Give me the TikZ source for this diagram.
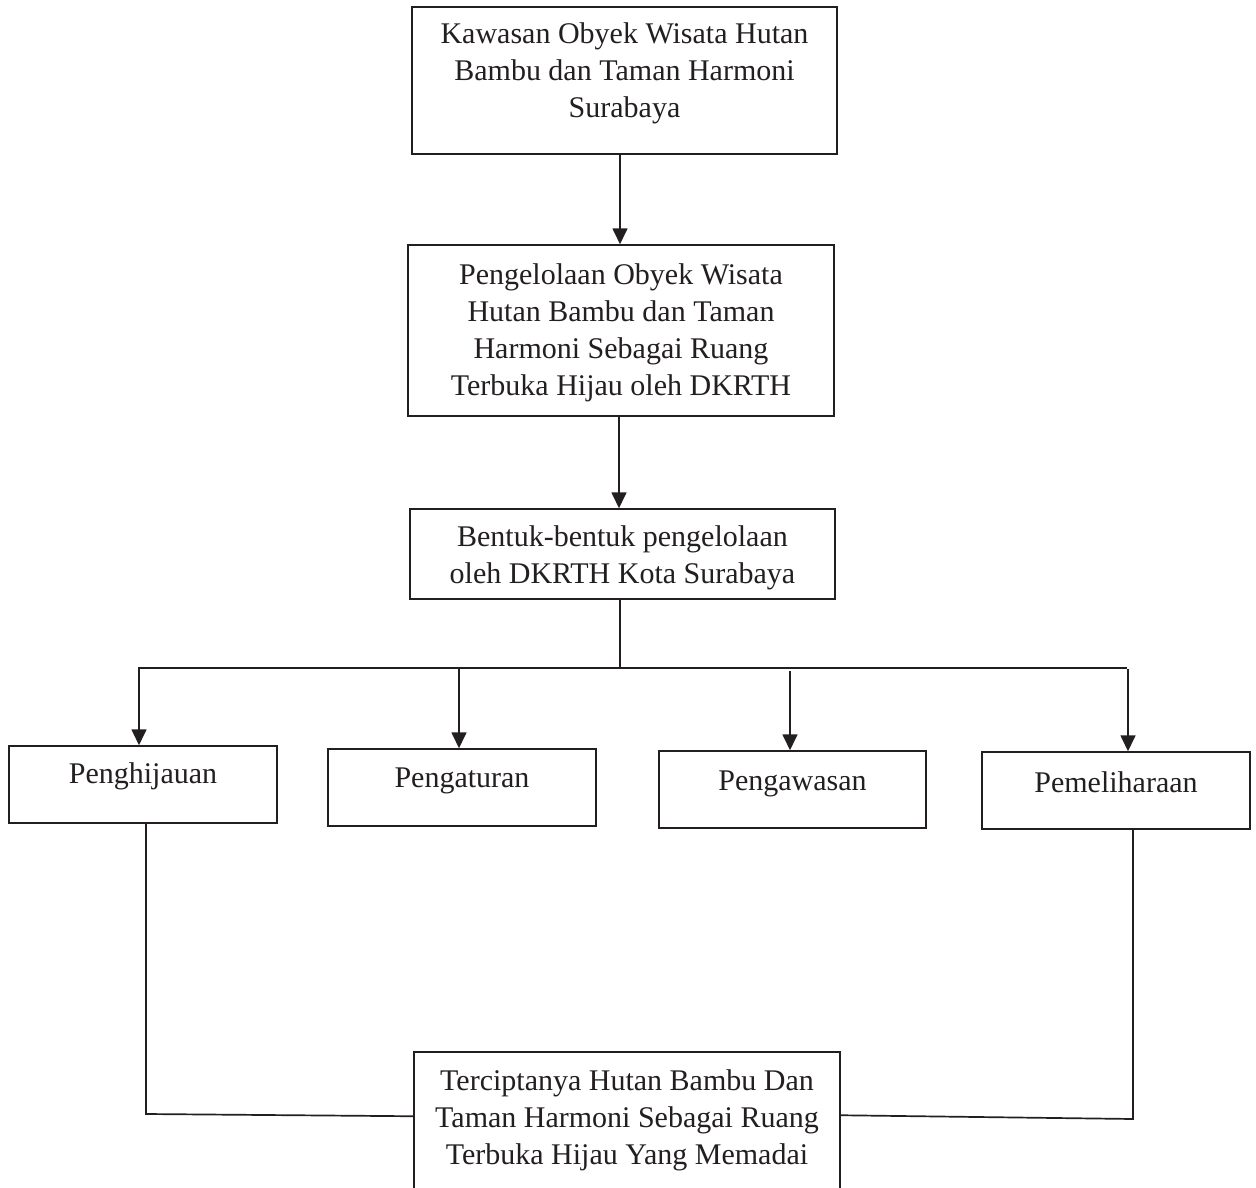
\documentclass[tikz,border=0pt]{standalone}
\usepackage{fontspec}
\setmainfont{Liberation Serif}
\usetikzlibrary{arrows.meta}
\definecolor{ink}{HTML}{231F20}
\begin{document}
\begin{tikzpicture}[x=1pt,y=-1pt,
  box/.style={draw=ink, line width=1.5pt, inner sep=0pt, rectangle},
  txt/.style={align=center, font=\fontsize{30}{37}\selectfont, text=ink, inner sep=0pt},
  conn/.style={draw=ink, line width=1.7pt},
  arr/.style={conn, -{Triangle[length=16pt,width=15pt]}}]
\clip (0,0) rectangle (1256,1188);
\fill[white] (0,0) rectangle (1256,1188);
% boxes
\node[box, minimum width=425pt, minimum height=147pt] (b1) at (624.5,80.5) {};
\node[box, minimum width=426pt, minimum height=171pt] (b2) at (621,330.5) {};
\node[box, minimum width=425pt, minimum height=90pt] (b3) at (622.5,554) {};
\node[box, minimum width=268pt, minimum height=77pt] (p1) at (143,784.5) {};
\node[box, minimum width=268pt, minimum height=77pt] (p2) at (462,787.5) {};
\node[box, minimum width=267pt, minimum height=77pt] (p3) at (792.5,789.5) {};
\node[box, minimum width=268pt, minimum height=77pt] (p4) at (1116,790.5) {};
\node[box, minimum width=426pt, minimum height=158pt] (bot) at (627,1131) {};
% texts
\node[txt] (t1) at (624.5,73.5) {Kawasan Obyek Wisata Hutan\\Bambu dan Taman Harmoni\\Surabaya};
\node[txt] (t2) at (621,333) {Pengelolaan Obyek Wisata\\Hutan Bambu dan Taman\\Harmoni Sebagai Ruang\\Terbuka Hijau oleh DKRTH};
\node[txt] (t3) at (622.5,558) {Bentuk-bentuk pengelolaan\\oleh DKRTH Kota Surabaya};
\node[txt] (q1) at (143,776) {Penghijauan};
\node[txt] (q2) at (462,781) {Pengaturan};
\node[txt] (q3) at (792.5,784) {Pengawasan};
\node[txt] (q4) at (1116,782.5) {Pemeliharaan};
\node[txt] (tb) at (627,1120) {Terciptanya Hutan Bambu Dan\\Taman Harmoni Sebagai Ruang\\Terbuka Hijau Yang Memadai};
% vertical arrows
\draw[arr] ([xshift=-4.5pt]b1.south) -- ([xshift=-4.5pt]b1.south |- b2.north);
\draw[arr] ([xshift=-2pt]b2.south) -- ([xshift=-2pt]b2.south |- b3.north);
% branching
\coordinate (j) at (620,668);
\coordinate (hl) at (138,668);
\coordinate (hr) at (1127,668);
\draw[conn] ([xshift=-2.5pt]b3.south) -- (j);
\draw[conn] (hl) -- (hr);
\coordinate (s1) at (139,668);
\coordinate (s2) at (459,668);
\coordinate (s3) at (790,671);
\coordinate (s4) at (1128,669);
\draw[arr] (s1) -- (s1 |- p1.north);
\draw[arr] (s2) -- (s2 |- p2.north);
\draw[arr] (s3) -- (s3 |- p3.north);
\draw[arr] (s4) -- (s4 |- p4.north);
% bottom connectors
\coordinate (c1) at (146,1114);
\coordinate (c2) at (1133,1119);
\draw[conn] (c1 |- p1.south) -- (c1) -- ([yshift=-65pt]bot.north west);
\draw[conn] (c2 |- p4.south) -- (c2) -- ([yshift=-64pt]bot.north east);
\end{tikzpicture}
\end{document}
